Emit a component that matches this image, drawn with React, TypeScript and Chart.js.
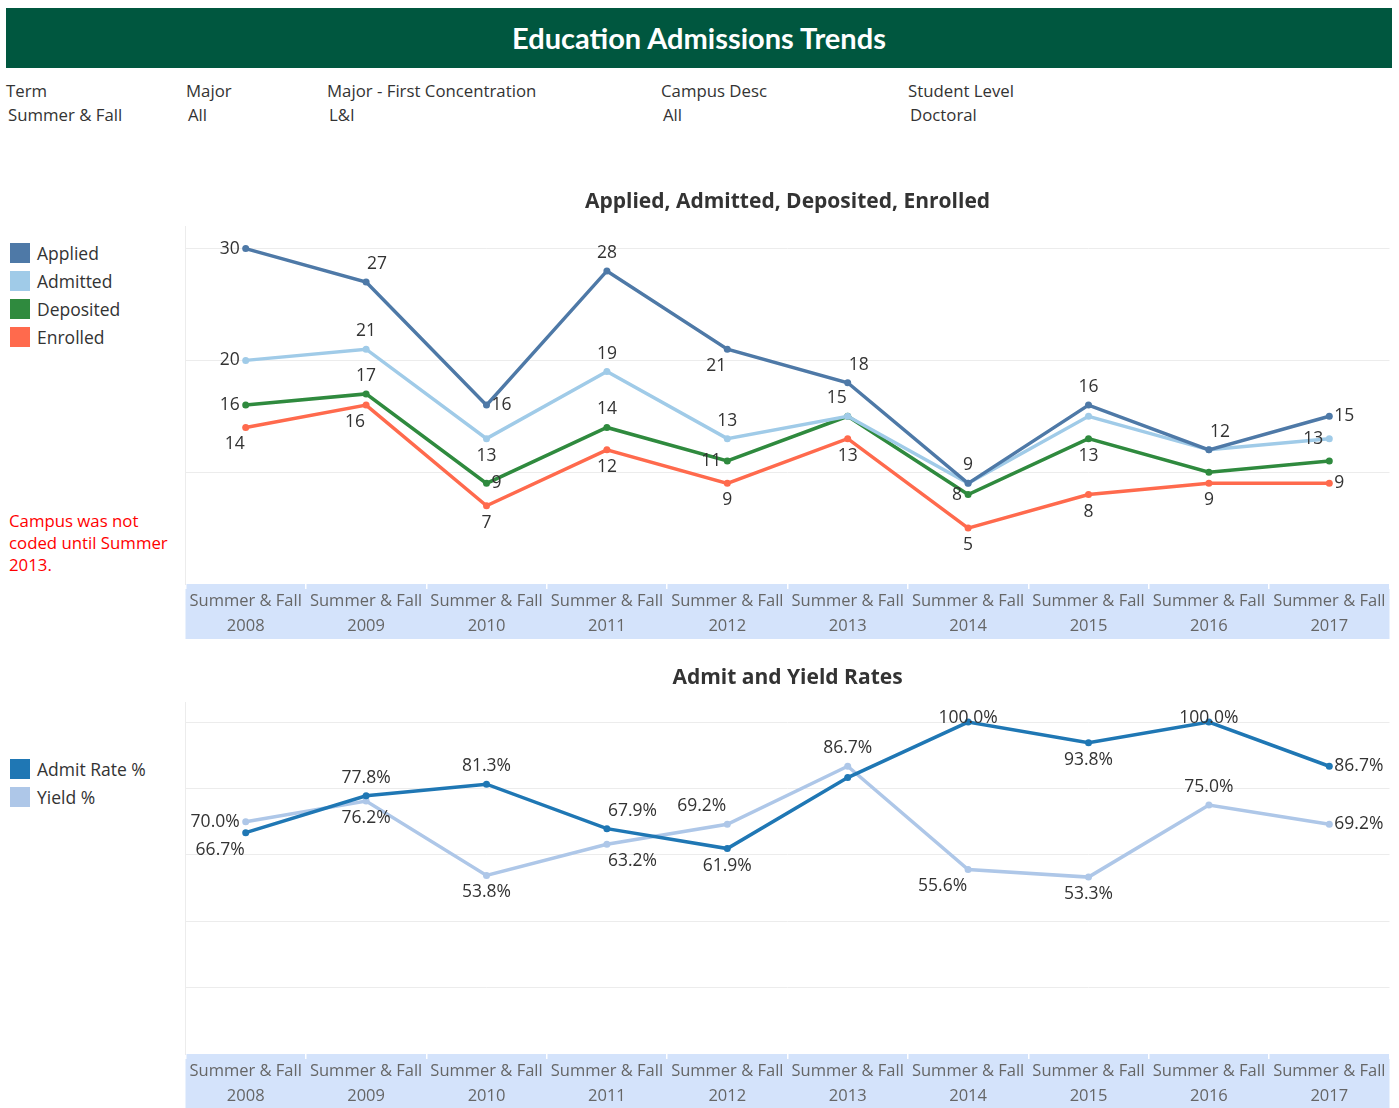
import React, { useEffect, useRef } from 'react';
import { Chart, registerables } from 'chart.js';

Chart.register(...registerables);

// ---------- data ----------
const termLabel = 'Summer & Fall';
const years = ['2008', '2009', '2010', '2011', '2012', '2013', '2014', '2015', '2016', '2017'];

const applied = [30, 27, 16, 28, 21, 18, 9, 16, 12, 15];
const admitted = [20, 21, 13, 19, 13, 15, 9, 15, 12, 13];
const deposited = [16, 17, 9, 14, 11, 15, 8, 13, 10, 11];
const enrolled = [14, 16, 7, 12, 9, 13, 5, 8, 9, 9];

const admitRate = [66.7, 77.8, 81.3, 67.9, 61.9, 83.3, 100.0, 93.8, 100.0, 86.7];
const yieldRate = [70.0, 76.2, 53.8, 63.2, 69.2, 86.7, 55.6, 53.3, 75.0, 69.2];

const filterNames = ['Term', 'Major', 'Major - First Concentration', 'Campus Desc', 'Student Level'];
const filterValues = ['Summer & Fall', 'All', 'L&I', 'All', 'Doctoral'];

// ---------- label placement (style) ----------
const appliedPos = ['L', 'TR', 'R', 'T', 'BL', 'TR', 'T', 'T', 'TR', 'R'];
const admittedPos = ['L', 'T', 'B', 'T', 'T', 'TL', '', '', '', 'L'];
const depositedPos = ['L', 'T', 'R', 'T', 'L', '', 'L', 'B', '', ''];
const enrolledPos = ['BL', 'BL', 'B', 'B', 'B', 'B', 'B', 'B', 'B', 'R'];
const admitPos = ['BL', 'T', 'T', 'TR', 'B', '', 'C', 'B', 'C', 'R'];
const yieldPos = ['L', 'B', 'B', 'BR', 'TL', 'T', 'BL', 'B', 'T', 'R'];

const FONT = '"Open Sans", "Noto Sans", sans-serif';
const TEXT = '#333333';

const OFFSETS: Record<string, { dx: number; dy: number; align: CanvasTextAlign }> = {
  T: { dx: 0, dy: -18, align: 'center' },
  B: { dx: 0, dy: 17, align: 'center' },
  L: { dx: -6, dy: 0, align: 'right' },
  R: { dx: 5, dy: 0, align: 'left' },
  TR: { dx: 1, dy: -18, align: 'left' },
  TL: { dx: -1, dy: -18, align: 'right' },
  BR: { dx: 1, dy: 17, align: 'left' },
  BL: { dx: -1, dy: 17, align: 'right' },
  C: { dx: 0, dy: -4, align: 'center' },
};

const labelPlugin = {
  id: 'pointLabels',
  afterDatasetsDraw(chart: any) {
    const ctx = chart.ctx;
    chart.data.datasets.forEach((ds: any, i: number) => {
      const meta = chart.getDatasetMeta(i);
      meta.data.forEach((pt: any, j: number) => {
        const p = ds.labelPos ? ds.labelPos[j] : '';
        if (!p) return;
        const o = OFFSETS[p];
        ctx.save();
        ctx.font = `17.5px ${FONT}`;
        ctx.fillStyle = TEXT;
        ctx.textAlign = o.align;
        ctx.textBaseline = 'middle';
        ctx.fillText(ds.labelFmt(ds.data[j]), pt.x + o.dx, pt.y + o.dy);
        ctx.restore();
      });
    });
  },
};

function lineDs(label: string, data: number[], color: string, pos: string[], fmt: (v: number) => string, width = 3.5) {
  return {
    label,
    data,
    borderColor: color,
    backgroundColor: color,
    borderWidth: width,
    pointRadius: 3.5,
    pointBorderWidth: 0,
    pointHoverRadius: 3.5,
    tension: 0,
    labelPos: pos,
    labelFmt: fmt,
  } as any;
}

function makeOptions(title: string, yMax: number, step: number) {
  return {
    responsive: true,
    maintainAspectRatio: false,
    animation: false,
    layout: { padding: 0 },
    plugins: {
      legend: { display: false },
      tooltip: { enabled: false },
      title: {
        display: true,
        text: title,
        color: TEXT,
        font: { family: FONT, size: 21, weight: 'bold' },
        padding: { top: 4, bottom: 12 },
      },
    },
    scales: {
      x: {
        type: 'category',
        offset: true,
        backgroundColor: '#d4e3fb',
        border: { display: false },
        grid: { offset: true, drawOnChartArea: false, drawTicks: true, tickLength: 5, color: '#ffffff', lineWidth: 1.5 },
        ticks: {
          color: '#666666',
          font: { family: FONT, size: 16.5, lineHeight: 25 / 16.5 },
          padding: 0,
          maxRotation: 0,
          autoSkip: false,
        },
      },
      y: {
        min: 0,
        max: yMax,
        ticks: { display: false, stepSize: step },
        border: { display: true, color: '#ececec' },
        grid: {
          drawTicks: false,
          color: (c: any) => (c.tick && c.tick.value > 0 && c.tick.value % step === 0 ? '#ececec' : 'rgba(0,0,0,0)'),
        },
      },
    },
  } as any;
}

function CountsChart() {
  const ref = useRef<HTMLCanvasElement>(null);
  useEffect(() => {
    const fmt = (v: number) => String(v);
    const chart = new Chart(ref.current!, {
      type: 'line',
      data: {
        labels: years.map((y) => [termLabel, y]),
        datasets: [
          lineDs('Applied', applied, '#4e79a7', appliedPos, fmt),
          lineDs('Admitted', admitted, '#a0cbe8', admittedPos, fmt),
          lineDs('Deposited', deposited, '#2f8a3e', depositedPos, fmt),
          lineDs('Enrolled', enrolled, '#ff6a4d', enrolledPos, fmt),
        ],
      },
      options: makeOptions('Applied, Admitted, Deposited, Enrolled', 32, 10),
      plugins: [labelPlugin],
    });
    return () => chart.destroy();
  }, []);
  return <canvas ref={ref} />;
}

function RatesChart() {
  const ref = useRef<HTMLCanvasElement>(null);
  useEffect(() => {
    const fmt = (v: number) => v.toFixed(1) + '%';
    const chart = new Chart(ref.current!, {
      type: 'line',
      data: {
        labels: years.map((y) => [termLabel, y]),
        datasets: [
          lineDs('Admit Rate %', admitRate, '#1f77b4', admitPos, fmt),
          lineDs('Yield %', yieldRate, '#aec7e8', yieldPos, fmt),
        ],
      },
      options: makeOptions('Admit and Yield Rates', 106, 20),
      plugins: [labelPlugin],
    });
    return () => chart.destroy();
  }, []);
  return <canvas ref={ref} />;
}

const abs = (x: number, y: number, extra: React.CSSProperties = {}): React.CSSProperties => ({
  position: 'absolute',
  left: x,
  top: y,
  ...extra,
});

function LegendItem({ x, y, color, label }: { x: number; y: number; color: string; label: string }) {
  return (
    <>
      <div style={abs(x, y, { width: 20, height: 20, background: color })} />
      <div style={abs(x + 27, y - 2, { fontSize: 17.5, lineHeight: '24px', color: TEXT, whiteSpace: 'nowrap' })}>{label}</div>
    </>
  );
}

const filterX = [6, 186, 327, 661, 908];

export default function App() {
  return (
    <div style={{ position: 'absolute', left: 0, top: 0, width: 1399, height: 1108, fontFamily: FONT, background: '#fff' }}>
      <div
        style={abs(6, 8, {
          width: 1386,
          height: 60,
          background: '#00573f',
          color: '#ffffff',
          fontWeight: 'bold',
          fontSize: 29,
          lineHeight: '60px',
          textAlign: 'center',
          fontFamily: '"Lato", sans-serif',
        })}
      >
        Education Admissions Trends
      </div>
      {filterNames.map((n, i) => (
        <React.Fragment key={n}>
          <div style={abs(filterX[i], 79, { fontSize: 16.8, lineHeight: '24px', color: TEXT, whiteSpace: 'nowrap' })}>{n}</div>
          <div style={abs(filterX[i] + 2, 103, { fontSize: 16.8, lineHeight: '24px', color: TEXT, whiteSpace: 'nowrap' })}>{filterValues[i]}</div>
        </React.Fragment>
      ))}

      <LegendItem x={10} y={243} color="#4e79a7" label="Applied" />
      <LegendItem x={10} y={271} color="#a0cbe8" label="Admitted" />
      <LegendItem x={10} y={299} color="#2f8a3e" label="Deposited" />
      <LegendItem x={10} y={327} color="#ff6a4d" label="Enrolled" />

      <div style={abs(9, 510, { width: 165, fontSize: 16.8, lineHeight: '22px', color: '#ff0000' })}>
        Campus was not coded until Summer 2013.
      </div>

      <LegendItem x={10} y={759} color="#1f77b4" label="Admit Rate %" />
      <LegendItem x={10} y={787} color="#aec7e8" label="Yield %" />

      <div style={abs(182, 185, { width: 1211, height: 454 })}>
        <CountsChart />
      </div>
      <div style={abs(182, 661, { width: 1211, height: 448 })}>
        <RatesChart />
      </div>
    </div>
  );
}
